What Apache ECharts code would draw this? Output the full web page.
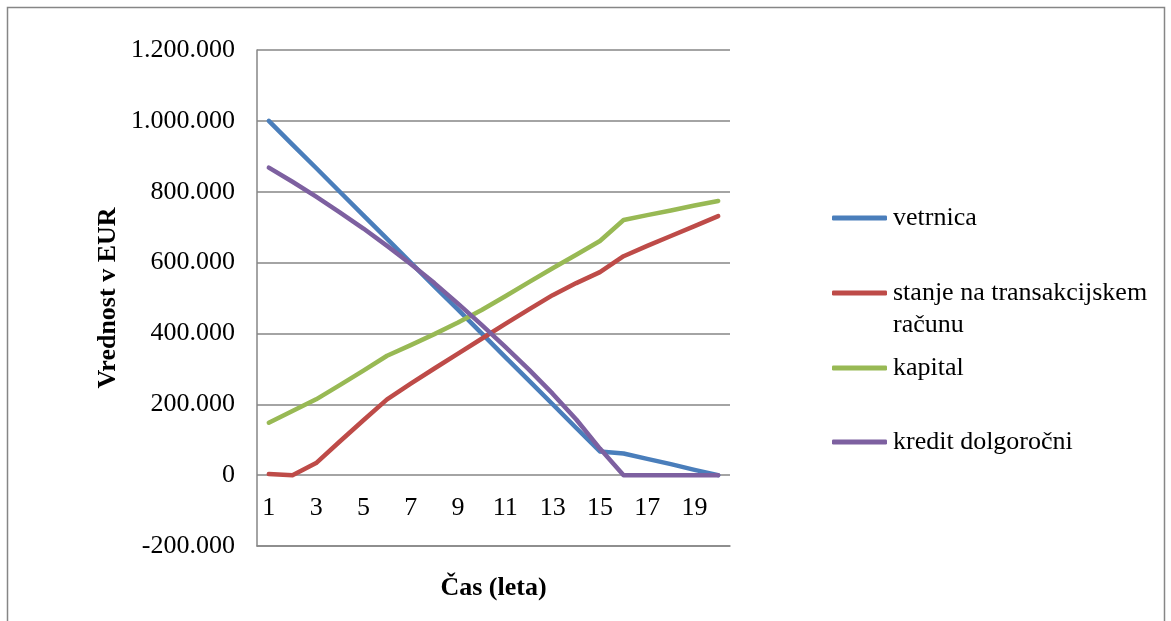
<!DOCTYPE html>
<html><head><meta charset="utf-8">
<script src="https://cdn.jsdelivr.net/npm/echarts@6/dist/echarts.min.js"></script>
<style>html,body{margin:0;padding:0;background:#fff}#c{width:1171px;height:621px}</style>
</head><body><div id="c"></div>
<script>
const categories = ['1','2','3','4','5','6','7','8','9','10','11','12','13','14','15','16','17','18','19','20'];
const vetrnica = [1000000, 933000, 867000, 800000, 733000, 667000, 600000, 533000, 467000, 400000, 333000, 267000, 200000, 133000, 67000, 61000, 46000, 31000, 15000, 0];
const stanje = [3000, 0, 34000, 95000, 155000, 214000, 258000, 301000, 343000, 385000, 427000, 468000, 508000, 542000, 573000, 618000, 647000, 675000, 703000, 731000];
const kapital = [148000, 181000, 214000, 254000, 295000, 337000, 367000, 398000, 431000, 466000, 505000, 545000, 584000, 622000, 661000, 720000, 734000, 747000, 761000, 774000];
const kredit = [868000, 828000, 786000, 742000, 696000, 647000, 596000, 542000, 484000, 424000, 362000, 298000, 230000, 157000, 75000, 0, 0, 0, 0, 0];
const seriesNames = ['vetrnica', 'stanje na transakcijskem računu', 'kapital', 'kredit dolgoročni'];
const legendLabels = ['vetrnica', 'stanje na transakcijskem', 'kapital', 'kredit dolgoročni'];
const colors = ['#4A7EBB', '#BE4B48', '#98B954', '#7D60A0'];
const FONT = 'Liberation Serif';
const GRAY = '#868686';

function fmt(v) {
  const neg = v < 0; let s = String(Math.abs(v));
  s = s.replace(/\B(?=(\d{3})+(?!\d))/g, '.');
  return (neg ? '-' : '') + s;
}
const dataArr = [vetrnica, stanje, kapital, kredit];
const legendTops = [205, 280, 355, 429];
const chart = echarts.init(document.getElementById('c'), null, {renderer: 'canvas'});
chart.setOption({
  animation: false,
  backgroundColor: '#fff',
  textStyle: {fontFamily: FONT},
  grid: {left: 257, right: 441, top: 50, bottom: 75, containLabel: false, outerBoundsMode: 'none'},
  xAxis: {
    type: 'category', data: categories, boundaryGap: true, position: 'bottom',
    axisLine: {show: true, onZero: false, lineStyle: {color: GRAY, width: 1.5}},
    axisTick: {show: false},
    axisLabel: {interval: 1, margin: -51, fontSize: 26, color: '#000', fontFamily: FONT},
    name: 'Čas (leta)', nameLocation: 'middle', nameGap: 29,
    nameTextStyle: {fontSize: 26, fontWeight: 'bold', color: '#000', fontFamily: FONT}
  },
  yAxis: {
    type: 'value', min: -200000, max: 1200000, interval: 200000,
    axisLine: {show: true, lineStyle: {color: GRAY, width: 1.5}},
    axisTick: {show: false},
    splitLine: {show: true, lineStyle: {color: GRAY, width: 1.5}},
    axisLabel: {margin: 22, fontSize: 26, color: '#000', fontFamily: FONT, formatter: fmt},
    name: 'Vrednost v EUR', nameLocation: 'middle', nameGap: 136, nameRotate: 90,
    nameTextStyle: {fontSize: 26, fontWeight: 'bold', color: '#000', fontFamily: FONT}
  },
  legend: seriesNames.map((n, i) => ({
    data: [n], orient: 'vertical', left: 832, top: legendTops[i], padding: 0,
    icon: 'roundRect', itemWidth: 55, itemHeight: 5,
    formatter: () => legendLabels[i],
    textStyle: {fontSize: 26, color: '#000', fontFamily: FONT, padding: [0, 0, 0, 1]},
    selectedMode: false
  })),
  graphic: [
    {type: 'rect', shape: {x: 7.5, y: 7.5, width: 1157, height: 640}, style: {fill: 'none', stroke: GRAY, lineWidth: 1.5}, silent: true, z: -1},
    {type: 'text', left: 893, top: 312, style: {text: 'računu', fontSize: 26, fontFamily: FONT, fill: '#000'}}
  ],
  series: seriesNames.map((n, i) => ({
    name: n, type: 'line', data: dataArr[i], symbol: 'none', showSymbol: false,
    color: colors[i],
    lineStyle: {width: 4.5, color: colors[i], cap: 'round', join: 'round'},
    itemStyle: {color: colors[i]}
  }))
});
</script></body></html>
